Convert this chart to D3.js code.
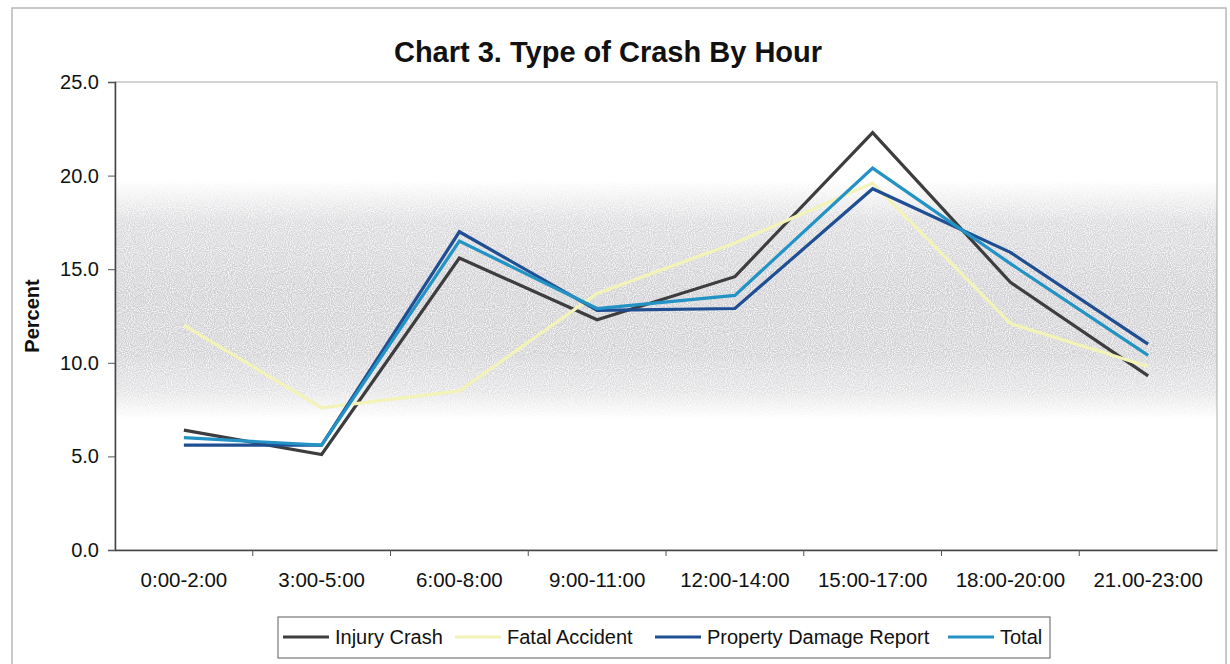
<!DOCTYPE html>
<html>
<head>
<meta charset="utf-8">
<script src="https://cdn.jsdelivr.net/npm/d3@7"></script>
<style>
  body { margin: 0; background: #fff; }
  text { font-family: "Liberation Sans", Arial, sans-serif; fill: #111; }
</style>
</head>
<body>
<div id="vis"></div>
<script>
// hour blocks on the x axis
const hours = ['0:00-2:00', '3:00-5:00', '6:00-8:00', '9:00-11:00', '12:00-14:00', '15:00-17:00', '18:00-20:00', '21.00-23:00']

// percent of each crash type
const injuryCrash = [6.4, 5.1, 15.6, 12.3, 14.6, 22.3, 14.3, 9.3]
const fatalAccident = [12.0, 7.6, 8.5, 13.7, 16.4, 19.6, 12.1, 9.8]
const propertyDamage = [5.6, 5.6, 17.0, 12.8, 12.9, 19.3, 15.9, 11.0]
const total = [6.0, 5.6, 16.5, 12.9, 13.6, 20.4, 15.3, 10.4]

const seriesNames = ['Injury Crash', 'Fatal Accident', 'Property Damage Report', 'Total']
const yTicks = [0, 5, 10, 15, 20, 25]

const W = 1230, H = 664
const margin = {left: 115, top: 82, right: 13, bottom: 114}

const series = [
    {name: seriesNames[0], values: injuryCrash, color: '#3d3d3f'},
    {name: seriesNames[1], values: fatalAccident, color: '#f3f3b8'},
    {name: seriesNames[2], values: propertyDamage, color: '#1f4f92'},
    {name: seriesNames[3], values: total, color: '#2392c4'}
]

const svg = d3.select('#vis').append('svg')
    .attr('width', W)
    .attr('height', H)

// outer chart frame
svg.append('rect')
    .attr('x', 12).attr('y', 8)
    .attr('width', 1214).attr('height', 670)
    .attr('fill', 'none')
    .attr('stroke', '#b8b8b8')
    .attr('stroke-width', 1.5)

const x = d3.scaleBand()
    .domain(hours)
    .range([margin.left, W - margin.right])
    .paddingInner(0).paddingOuter(0)

const y = d3.scaleLinear()
    .domain([0, 25])
    .range([H - margin.bottom, margin.top])

// speckled gray band behind the lines
const defs = svg.append('defs')
const grad = defs.append('linearGradient')
    .attr('id', 'band').attr('x1', 0).attr('y1', 0).attr('x2', 0).attr('y2', 1)
const stops = [[0, '#ffffff'], [0.21, '#ffffff'], [0.3, '#dadadd'], [0.45, '#d0d0d4'], [0.58, '#d2d2d5'], [0.66, '#e2e2e4'], [0.72, '#ffffff'], [1, '#ffffff']]
stops.forEach(s => grad.append('stop').attr('offset', s[0]).attr('stop-color', s[1]))

const noise = defs.append('filter').attr('id', 'grain')
    .attr('x', 0).attr('y', 0).attr('width', 1).attr('height', 1)
noise.append('feTurbulence')
    .attr('type', 'fractalNoise').attr('baseFrequency', 0.95).attr('numOctaves', 1).attr('seed', 3)
    .attr('result', 'n')
noise.append('feColorMatrix')
    .attr('in', 'n').attr('type', 'matrix')
    .attr('values', '0 0 0 0 1  0 0 0 0 1  0 0 0 0 1  2.2 0 0 0 -0.85')
    .attr('result', 'speck')
noise.append('feComposite').attr('in', 'speck').attr('in2', 'SourceGraphic').attr('operator', 'atop').attr('result', 'sp')
noise.append('feMerge').call(m => {
    m.append('feMergeNode').attr('in', 'SourceGraphic')
    m.append('feMergeNode').attr('in', 'sp')
})

svg.append('rect')
    .attr('x', margin.left).attr('y', margin.top)
    .attr('width', W - margin.right - margin.left)
    .attr('height', H - margin.bottom - margin.top)
    .attr('fill', 'url(#band)')
    .attr('filter', 'url(#grain)')

// plot area border
svg.append('rect')
    .attr('x', margin.left).attr('y', margin.top)
    .attr('width', W - margin.right - margin.left)
    .attr('height', H - margin.bottom - margin.top)
    .attr('fill', 'none')
    .attr('stroke', '#aaaaaa')
    .attr('stroke-width', 1)

// title
svg.append('text')
    .attr('x', 608).attr('y', 62)
    .attr('text-anchor', 'middle')
    .style('font-size', '29px')
    .style('font-weight', 'bold')
    .text('Chart 3. Type of Crash By Hour')

// y axis
const yAxis = d3.axisLeft(y)
    .tickValues(yTicks)
    .tickFormat(d3.format('.1f'))
    .tickSize(7)
const gy = svg.append('g')
    .attr('transform', `translate(${margin.left},0)`)
    .call(yAxis)
gy.select('.domain').attr('stroke', '#444').attr('stroke-width', 1.5)
gy.selectAll('.tick line').attr('stroke', '#555')
gy.selectAll('.tick text').style('font-size', '20px').attr('x', -16).attr('fill', '#111')

svg.append('text')
    .attr('transform', `translate(39,${(margin.top + H - margin.bottom) / 2}) rotate(-90)`)
    .attr('text-anchor', 'middle')
    .style('font-size', '20px')
    .style('font-weight', 'bold')
    .text('Percent')

// x axis, ticks sit between the hour blocks
const xAxis = d3.axisBottom(x).tickSize(0).tickPadding(22)
const gx = svg.append('g')
    .attr('transform', `translate(0,${H - margin.bottom})`)
    .call(xAxis)
gx.select('.domain').attr('stroke', '#444').attr('stroke-width', 1.5)
gx.selectAll('.tick text').style('font-size', '20.5px').attr('fill', '#111')
gx.selectAll('.sep')
    .data(hours.slice(1))
    .enter().append('line')
    .attr('x1', d => x(d)).attr('x2', d => x(d))
    .attr('y1', 0).attr('y2', 6)
    .attr('stroke', '#555')

// lines
const line = d3.line()
    .x((d, i) => x(hours[i]) + x.bandwidth() / 2)
    .y(d => y(d))

svg.selectAll('.series')
    .data(series)
    .enter().append('path')
    .attr('class', 'series')
    .attr('d', d => line(d.values))
    .attr('fill', 'none')
    .attr('stroke', d => d.color)
    .attr('stroke-width', 3.2)
    .attr('stroke-linejoin', 'miter')

// legend
const legendX = [283, 455, 655, 948]
const legend = svg.append('g')
legend.append('rect')
    .attr('x', 278).attr('y', 617)
    .attr('width', 772).attr('height', 41)
    .attr('fill', '#fff')
    .attr('stroke', '#777')
    .attr('stroke-width', 1.2)

const items = legend.selectAll('.item')
    .data(series)
    .enter().append('g')
    .attr('transform', (d, i) => `translate(${legendX[i]},637)`)
items.append('line')
    .attr('x1', 0).attr('x2', 46)
    .attr('stroke', d => d.color)
    .attr('stroke-width', 3.2)
items.append('text')
    .attr('x', 52).attr('y', 7)
    .style('font-size', '20px')
    .text(d => d.name)
</script>
</body>
</html>
